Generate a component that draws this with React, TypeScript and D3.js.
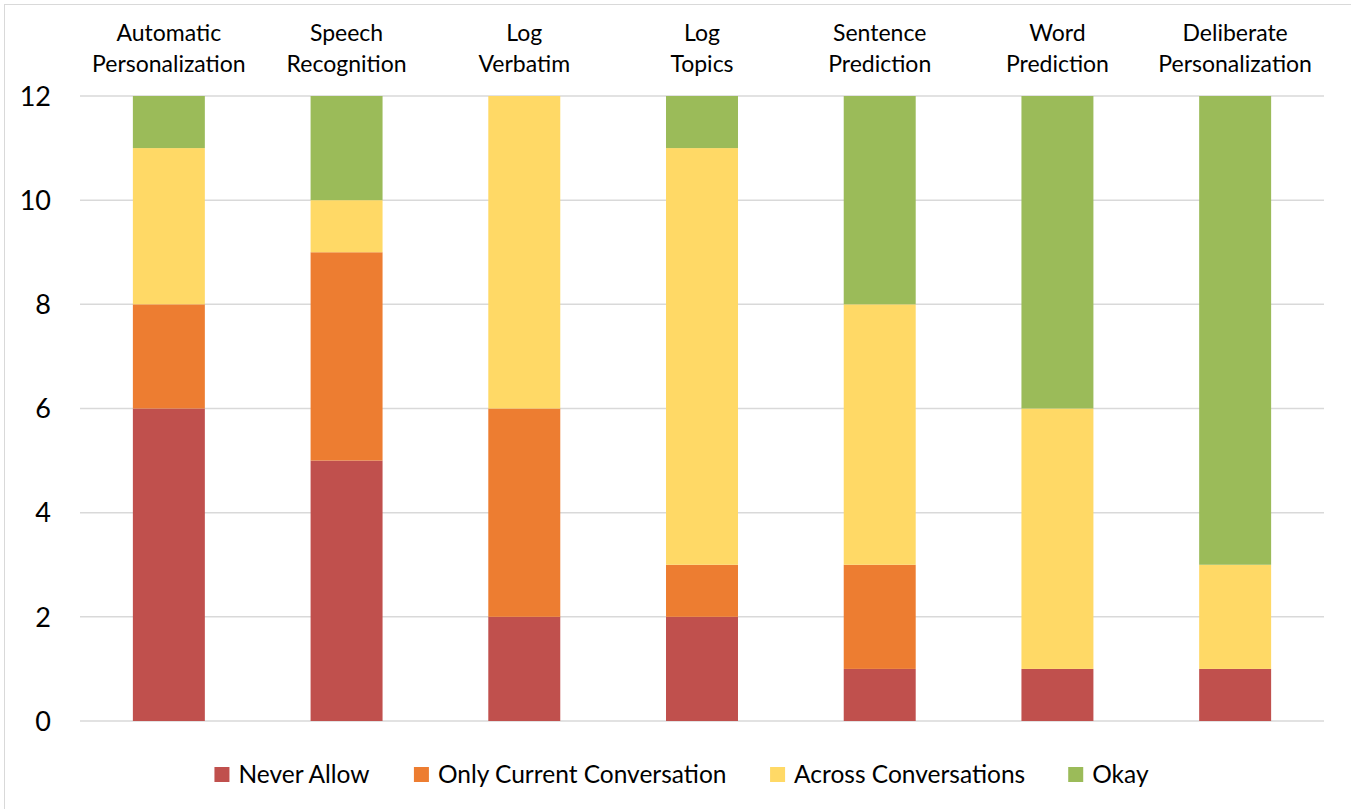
import React, { useMemo } from 'react'
import * as d3 from 'd3'

const categories = [
  ['Automatic', 'Personalization'],
  ['Speech', 'Recognition'],
  ['Log', 'Verbatim'],
  ['Log', 'Topics'],
  ['Sentence', 'Prediction'],
  ['Word', 'Prediction'],
  ['Deliberate', 'Personalization'],
]
const seriesNames = ['Never Allow', 'Only Current Conversation', 'Across Conversations', 'Okay']
const neverAllow = [6, 5, 2, 2, 1, 1, 1]
const onlyCurrent = [2, 4, 4, 1, 2, 0, 0]
const acrossConv = [3, 1, 6, 8, 5, 5, 2]
const okay = [1, 2, 0, 1, 4, 6, 9]
const yTicks = [0, 2, 4, 6, 8, 10, 12]
const colors = ['#C0504D', '#ED7D31', '#FFD966', '#9BBB59']

const W = 1351
const H = 809
const FONT = 'Lato, "Open Sans", sans-serif'

function textWidth(s, size) {
  const c = document.createElement('canvas').getContext('2d')
  c.font = `${size}px Lato`
  return c.measureText(s).width
}

export default function App() {
  const keys = ['never', 'only', 'across', 'okay']
  const rows = categories.map((c, i) => ({
    cat: c.join(' '),
    never: neverAllow[i],
    only: onlyCurrent[i],
    across: acrossConv[i],
    okay: okay[i],
  }))
  const layers = d3.stack().keys(keys)(rows)

  const x = d3.scaleBand()
    .domain(rows.map(d => d.cat))
    .range([80, 1324])
    .paddingInner(0.595)
    .paddingOuter(0.2975)
  const y = d3.scaleLinear().domain([0, 12]).range([721, 96])

  // legend layout, centred on the chart
  const legendSize = 24.5
  const legend = useMemo(() => {
    const items = []
    let pos = 0
    seriesNames.forEach((name, i) => {
      const w = textWidth(name, legendSize)
      items.push({ name, color: colors[i], x: pos })
      pos += 15 + 9 + w + (i < seriesNames.length - 1 ? 43 : 0)
    })
    const off = W / 2 - pos / 2 + 6
    return items.map(d => ({ ...d, x: d.x + off }))
  }, [])

  return (
    <svg width={W} height={H} style={{ position: 'absolute', left: 0, top: 0, background: '#fff' }}
      fontFamily={FONT}>
      <rect x={4.5} y={4.5} width={W - 4} height={H - 4} fill="#fff" stroke="#d9d9d9" />
      {yTicks.map(t => (
        <g key={t}>
          <line x1={80} x2={1324} y1={y(t)} y2={y(t)} stroke="#d9d9d9" strokeWidth={1.5} />
          <text x={51} y={y(t)} dy="0.36em" textAnchor="end" fontSize={27} fill="#000">{t}</text>
        </g>
      ))}
      {layers.map((layer, li) => (
        <g key={layer.key} fill={colors[li]}>
          {layer.map(d => (
            d[1] - d[0] > 0 ?
              <rect key={d.data.cat} x={x(d.data.cat)} width={x.bandwidth()}
                y={y(d[1])} height={y(d[0]) - y(d[1])} /> : null
          ))}
        </g>
      ))}
      {categories.map((c, i) => (
        <text key={i} x={x(rows[i].cat) + x.bandwidth() / 2} textAnchor="middle" fontSize={23} fill="#000">
          <tspan x={x(rows[i].cat) + x.bandwidth() / 2} y={41}>{c[0]}</tspan>
          <tspan x={x(rows[i].cat) + x.bandwidth() / 2} y={72}>{c[1]}</tspan>
        </text>
      ))}
      {legend.map(d => (
        <g key={d.name}>
          <rect x={d.x} y={767} width={15} height={15} fill={d.color} />
          <text x={d.x + 24} y={774} dy="0.36em" fontSize={legendSize} fill="#000">{d.name}</text>
        </g>
      ))}
    </svg>
  )
}
